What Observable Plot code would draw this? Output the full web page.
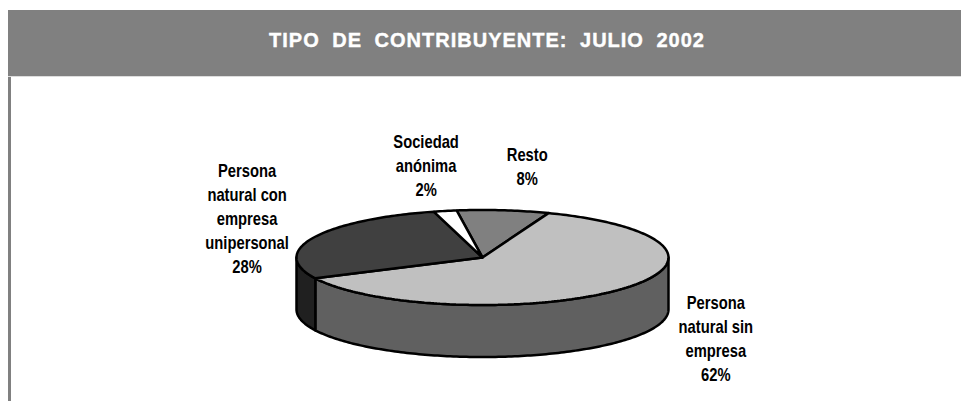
<!DOCTYPE html>
<html><head><meta charset="utf-8">
<script src="https://cdn.jsdelivr.net/npm/d3@7"></script>
<script src="https://cdn.jsdelivr.net/npm/@observablehq/plot@0.6"></script>
<style>
html,body{margin:0;padding:0;background:#fff;overflow:hidden}
#head{position:absolute;left:8px;top:10px;width:953px;height:67px;background:#808080;color:#fff;
 font:bold 20px "Liberation Sans",Arial,sans-serif;text-align:center;line-height:61px;letter-spacing:1px;word-spacing:6px;
 -webkit-text-stroke:.4px #fff;padding-left:5px;box-sizing:border-box;border-bottom:1px solid #ddd;white-space:nowrap}
#chart{position:absolute;left:8px;top:77px;width:950px;height:324px;border-left:3px solid #808080}
#chart svg{display:block}
</style></head><body>
<div id="head"></div>
<div id="chart"></div>
<script>
const title = "TIPO DE CONTRIBUYENTE: JULIO 2002";
const categories = ["Resto", "Persona\nnatural sin\nempresa", "Persona\nnatural con\nempresa\nunipersonal", "Sociedad\nanónima"];
const values = [8, 62, 28, 2];
const topColors = ["#808080", "#c0c0c0", "#404040", "#ffffff"];
const sideColors = ["#606060", "#606060", "#202020", "#ffffff"];
const labelOffsets = [[24, -45], [96, 48], [-66, -21], [-19, -47]];

document.getElementById("head").textContent = title;

const W = 950, H = 324, cx = 471, cy = 180, rx = 186, ry = 47.5, depthPx = 52;
const depth = depthPx / ry;
const rad = Math.PI / 180;
const slices = d3.pie().sort(null).startAngle(-8 * rad).endAngle(352 * rad)(values);

const arc = (a0, a1, drop = 0) => {
  const n = Math.max(2, Math.ceil((a1 - a0) / rad));
  return d3.range(n + 1).map(i => {
    const a = a0 + (a1 - a0) * i / n;
    return {x: Math.sin(a), y: Math.cos(a) - drop};
  });
};

const marks = [];
// sides
slices.forEach((s, i) => {
  const a0 = Math.max(s.startAngle, 90 * rad), a1 = Math.min(s.endAngle, 270 * rad);
  if (a1 <= a0) return;
  const top = arc(a0, a1), bottom = arc(a0, a1, depth).reverse();
  const pts = [...top, ...bottom, top[0]];
  marks.push(Plot.line(pts, {x: "x", y: "y", fill: sideColors[i], stroke: "#000", strokeWidth: 2.5, strokeLinejoin: "round", curve: "linear"}));
});
// tops
slices.forEach((s, i) => {
  const pts = [{x: 0, y: 0}, ...arc(s.startAngle, s.endAngle), {x: 0, y: 0}];
  marks.push(Plot.line(pts, {x: "x", y: "y", fill: topColors[i], stroke: "#000", strokeWidth: 2.5, strokeLinejoin: "miter", curve: "linear"}));
});
// labels
slices.forEach((s, i) => {
  const mid = (s.startAngle + s.endAngle) / 2;
  marks.push(Plot.text([{x: Math.sin(mid), y: Math.cos(mid), t: categories[i] + "\n" + values[i] + "%"}], {
    x: "x", y: "y", text: "t", dx: labelOffsets[i][0], dy: labelOffsets[i][1],
    fontFamily: '"Liberation Sans",Arial,sans-serif', fontWeight: "bold", fontSize: 18,
    lineHeight: 1.333, textAnchor: "middle", lineAnchor: "middle", fill: "#000"
  }));
});

const plot = Plot.plot({
  width: W, height: H, margin: 0,
  x: {domain: [-cx / rx, (W - cx) / rx], range: [0, W], axis: null},
  y: {domain: [cy / ry, -(H - cy) / ry], range: [0, H], axis: null},
  style: {background: "transparent"},
  marks
});
// condense the label type horizontally (no narrow face is installed)
plot.querySelectorAll("text").forEach(t => {
  const g = t.getAttribute("transform") || "";
  t.setAttribute("transform", (g + " scale(.82,1)").trim());
});
document.getElementById("chart").appendChild(plot);
</script>
</body></html>
